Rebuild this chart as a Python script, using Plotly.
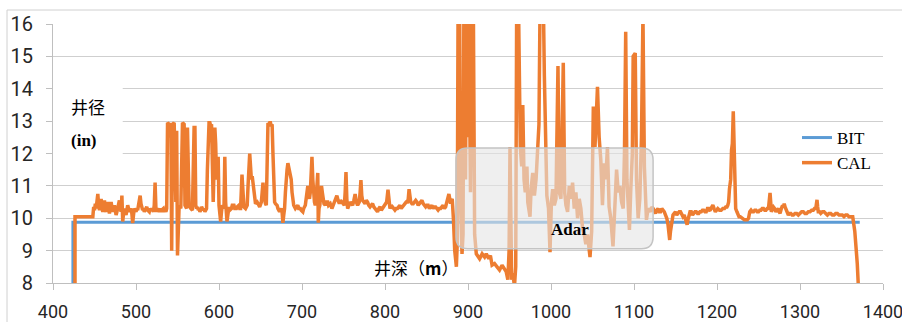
import plotly.graph_objects as go

# ---------------- data ----------------
x_ticks = [400, 500, 600, 700, 800, 900, 1000, 1100, 1200, 1300, 1400]
y_ticks = [8, 9, 10, 11, 12, 13, 14, 15, 16]

bit_depth = [424, 424, 1372]
bit_size = [8.0, 9.875, 9.875]

# CAL (caliper), section by section
cal_depth_a = [426.5, 426.5,
               448, 449, 450, 451, 452, 453, 454, 455, 456, 457,
               458, 459, 460, 461, 462, 463, 464, 465, 466, 467,
               468, 469, 470, 471, 472, 473, 474, 475, 476, 477,
               478, 479, 480, 481, 482, 483, 484, 485, 486, 487,
               488, 489, 490, 491, 492, 493, 494, 495, 496, 497,
               498, 499, 500, 501, 502, 503, 504, 505, 506, 507,
               508, 509, 510, 511, 512, 513, 514, 515, 516, 517,
               518, 519, 520, 521, 522, 523, 524, 525, 526, 527,
               528, 529, 530, 531, 532, 533, 534, 535, 536, 537]
cal_size_a = [8.0, 10.05,
              10.05, 10.35, 10.25, 10.45, 10.3, 10.55, 10.75, 10.4, 10.25, 10.45,
              10.6, 10.3, 10.2, 10.4, 10.55, 10.25, 10.2, 10.35, 10.5, 10.3,
              10.15, 10.3, 10.5, 10.35, 10.2, 10.3, 10.4, 10.25, 10.1, 10.2,
              10.3, 10.45, 10.55, 10.35, 10.2, 10.7, 9.9, 10.15, 10.3, 10.2,
              10.1, 10.25, 10.4, 10.3, 10.2, 10.25, 10.3, 10.15, 9.85, 10.1,
              10.3, 10.25, 10.2, 10.3, 10.25, 10.4, 10.5, 10.7, 10.45, 10.3,
              10.25, 10.3, 10.2, 10.25, 10.3, 10.35, 10.25, 10.2, 10.2, 10.3,
              10.25, 10.3, 10.2, 10.2, 10.4, 11.1, 10.3, 10.2, 10.3, 10.25,
              10.2, 10.3, 10.2, 10.25, 10.3, 10.3, 10.2, 10.25, 10.2, 10.3]

cal_depth_b = [538, 540, 541, 542, 543, 544, 546, 548, 549, 550,
               552, 554, 556, 558, 559, 561, 562, 564, 566, 568, 570]
cal_size_b = [12.95, 12.9, 12.5, 12.95, 9.0, 12.9, 12.95, 10.5, 12.7, 8.85,
              10.4, 10.3, 12.95, 12.9, 10.4, 10.3, 12.8, 10.4, 10.3, 10.25, 12.8]

cal_depth_c = [571, 572, 573, 574, 575, 576, 577, 578, 579, 580,
               581, 582, 583, 584, 585, 586, 587, 588, 589, 590,
               591, 592, 593, 594, 595, 596, 597, 598, 599, 600,
               601, 602, 603, 604, 605, 606, 607, 608, 609.6, 611,
               612, 613, 615, 616, 618, 619, 621, 622, 624, 625,
               626, 627.7, 629, 630, 632, 633, 634, 635, 637, 638,
               639, 640, 641, 642, 643, 644, 646, 647, 648, 649,
               650, 651, 652, 653, 654, 655, 656, 657, 658, 659,
               660, 661, 662, 663, 664, 665, 666, 667, 668, 670,
               671, 673, 674, 675, 676, 677, 678, 679, 680, 681,
               682, 683, 684, 685, 686, 687, 688, 689, 690, 692,
               693, 695, 696, 698, 699, 701, 702, 704, 705, 706,
               707, 708, 709, 710, 711, 712, 713, 714, 715, 716,
               717, 718, 719, 719.6, 720.5, 721.5, 722.5, 723.5, 724.5, 725.5,
               726.5, 728, 729, 731, 732, 734]
cal_size_c = [12.8, 10.4, 10.3, 10.35, 10.25, 10.3, 10.2, 10.25, 10.35, 10.3,
              10.25, 10.3, 10.2, 10.25, 10.3, 11.5, 12.9, 12.95, 12.95, 12.85,
              12.9, 11.8, 10.5, 11.5, 12.8, 12.3, 11.2, 11.3, 11.9, 10.4,
              10.2, 9.9, 10.2, 10.4, 10.35, 10.3, 11.9, 10.5, 9.9, 10.3,
              10.35, 10.25, 10.3, 10.4, 10.4, 10.3, 10.3, 10.35, 10.4, 10.3,
              10.3, 11.35, 10.4, 10.35, 10.3, 10.35, 10.4, 11.0, 12.0, 11.6,
              11.2, 11.3, 11.1, 10.8, 10.6, 10.45, 10.5, 10.4, 10.4, 10.35,
              10.4, 10.5, 10.8, 11.1, 10.7, 10.5, 10.45, 10.4, 11.5, 12.94,
              12.9, 12.95, 12.95, 12.85, 12.9, 12.0, 11.0, 10.5, 10.45, 10.4,
              10.3, 10.2, 10.25, 10.3, 10.2, 9.86, 10.1, 10.3, 10.8, 11.4,
              11.5, 11.7, 11.6, 11.5, 11.3, 11.2, 10.8, 10.5, 10.4, 10.3,
              10.35, 10.4, 10.3, 10.3, 10.25, 10.2, 10.3, 10.4, 10.6, 10.8,
              11.0, 10.7, 10.6, 10.8, 11.4, 11.9, 11.2, 10.75, 10.5, 10.4,
              10.6, 11.0, 11.4, 9.86, 10.3, 10.4, 10.7, 11.0, 10.8, 10.5,
              10.45, 10.4, 10.5, 10.5, 10.4, 10.45]

cal_depth_d = [736, 737.5, 739, 740.5, 742, 743.5, 745, 746.5, 748, 749.5,
               751, 752, 753, 754, 755, 756.5, 758, 759.5, 761, 762.5,
               764, 765.5, 767, 768, 769, 770, 771, 772, 773, 774.5,
               776, 777.5, 779, 780.5, 782, 783.5, 785, 786.5, 788, 789.5,
               791, 792.5, 794, 795.5, 797, 798.5, 800, 802, 803.6, 805,
               806, 807.5, 809, 810.5, 812, 813.5, 815, 816.5, 818, 819.5,
               821, 822.5, 824, 825.5, 827, 828, 829, 830, 831, 832.5,
               834, 835.5, 837, 838.5, 840, 841.5, 843, 844.5, 846, 847.5,
               849, 850.5, 852, 853.5, 855, 856.5, 858, 859.5, 861, 862.5,
               864, 865.5, 867, 868.5, 870, 871.5, 873, 874, 875, 876,
               877, 878, 879, 880, 881]
cal_size_d = [10.3, 10.4, 10.5, 10.6, 10.7, 10.55, 10.45, 10.55, 10.5, 10.45,
              10.4, 10.8, 11.43, 10.6, 10.3, 10.4, 10.5, 10.45, 10.4, 10.55,
              10.75, 10.5, 10.4, 10.45, 10.5, 10.8, 11.18, 10.7, 10.55, 10.5,
              10.45, 10.55, 10.5, 10.4, 10.35, 10.4, 10.45, 10.35, 10.3, 10.25,
              10.2, 10.3, 10.35, 10.25, 10.3, 10.35, 10.4, 10.5, 10.88, 10.45,
              10.3, 10.4, 10.35, 10.3, 10.25, 10.3, 10.3, 10.35, 10.4, 10.3,
              10.35, 10.4, 10.45, 10.5, 10.5, 10.6, 10.9, 10.6, 10.5, 10.45,
              10.45, 10.5, 10.55, 10.5, 10.4, 10.45, 10.5, 10.55, 10.45, 10.4,
              10.35, 10.4, 10.4, 10.3, 10.35, 10.4, 10.3, 10.35, 10.35, 10.3,
              10.25, 10.3, 10.3, 10.35, 10.4, 10.3, 10.35, 10.45, 10.55, 10.6,
              10.75, 10.6, 10.45, 10.55, 10.6]

cal_depth_e = [882.5, 884, 886, 887, 888, 890, 891, 892.8, 894, 895,
               897, 898, 900, 901, 903, 905, 906.5, 908, 910, 912,
               914, 917, 920, 922, 925, 927, 929, 932, 935, 938,
               941, 944, 946, 948, 949.5, 950.6, 951.5, 952.6, 954, 956,
               957.5, 958.6]
cal_size_e = [9.95, 9.0, 8.5, 9.2, 16.3, 16.3, 10.5, 8.9, 9.5, 16.3,
              11.2, 16.3, 12.5, 16.3, 10.8, 16.3, 16.3, 9.5, 8.9, 8.8,
              8.75, 8.9, 8.8, 8.9, 8.75, 8.85, 8.55, 8.6, 8.5, 8.4,
              8.55, 8.45, 8.35, 8.1, 9.0, 12.2, 9.0, 8.1, 8.3, 7.9,
              8.5, 16.3]

cal_depth_f = [961, 963, 964.7, 966, 967.5, 969, 971, 972, 974.7, 976,
               978, 980, 982, 984, 985.5, 986.7, 989, 991, 992, 993.5,
               995, 997, 998.8, 1000.5, 1002, 1004, 1006, 1008.4, 1010, 1012,
               1014.8, 1016.5, 1018, 1020, 1022, 1024, 1026, 1028, 1030, 1032,
               1034, 1036, 1038, 1040, 1042, 1044, 1047, 1049]
cal_size_f = [16.3, 12.2, 11.6, 13.5, 11.2, 10.8, 11.6, 10.5, 10.05, 10.9,
              11.4, 10.7, 11.2, 12.1, 12.9, 16.3, 16.3, 16.3, 14.4, 12.0,
              10.7, 10.3, 8.95, 10.5, 10.9, 10.4, 10.6, 14.7, 10.8, 10.6,
              14.8, 10.8, 10.4, 10.2, 11.0, 10.6, 11.1, 10.3, 10.8, 10.0,
              10.6, 10.3, 9.7, 9.5, 9.2, 9.5, 8.8, 9.6]

cal_depth_g = [1051, 1053, 1056, 1058, 1060, 1062, 1064, 1066, 1068, 1070,
               1072, 1074.7, 1077, 1079, 1081, 1083, 1085, 1087, 1088.5, 1090,
               1091.5, 1093, 1094.5, 1096, 1098, 1099, 1101.5, 1103, 1105, 1107,
               1109, 1110.8, 1112.5, 1115, 1117]
cal_size_g = [13.45, 12.2, 14.06, 12.5, 11.8, 10.4, 11.7, 11.2, 12.2, 10.36,
              10.0, 9.13, 10.2, 11.5, 10.8, 11.0, 10.5, 10.3, 12.0, 15.76,
              11.2, 10.5, 9.64, 10.8, 12.0, 15.0, 15.1, 11.2, 10.0, 10.6,
              12.5, 16.3, 11.6, 9.95, 10.3]

cal_depth_h = [1120, 1121.5, 1123, 1124.5, 1126, 1127.5, 1129, 1130.5, 1132, 1133.5,
               1135, 1136.5, 1138, 1139.5, 1141, 1142, 1143, 1144, 1145, 1146,
               1147, 1148.5, 1150, 1151.5, 1153, 1154.5, 1156, 1157.5, 1159, 1160.5,
               1162, 1163, 1164, 1165, 1166, 1167.5, 1169, 1170.5, 1172, 1173.5,
               1175, 1176.5, 1178, 1179.5, 1181, 1182.5, 1184, 1185.5, 1187, 1188.5,
               1190, 1191, 1192, 1193.5, 1195, 1196.5, 1198, 1199.5, 1201, 1203,
               1205, 1207, 1209, 1210.5, 1212, 1213, 1214, 1215, 1215.7, 1216.5,
               1217.5, 1218.5, 1219.6, 1220.3, 1221, 1221.8, 1222.5, 1224, 1225, 1226.5,
               1228, 1230, 1231.6, 1233, 1235, 1236.5, 1238, 1239.5, 1241, 1242.5,
               1244, 1245.5, 1247, 1248.5, 1250, 1251.5, 1253, 1254.5, 1256, 1257.5,
               1259, 1260.5, 1262, 1263, 1263.9, 1264.7, 1265.5, 1267, 1268, 1269.5,
               1271, 1272.5, 1274, 1275, 1276, 1277.5, 1279, 1280, 1281, 1282,
               1283, 1284.5, 1286, 1287.5, 1289, 1290.5, 1292, 1294, 1296, 1298,
               1300, 1302, 1304, 1306, 1308, 1310, 1312, 1314, 1316, 1317.5,
               1319, 1320.5, 1321.3, 1322, 1323.5, 1325, 1327, 1329, 1331, 1333,
               1335, 1337, 1339, 1341, 1343, 1345, 1347, 1349, 1351, 1353,
               1355, 1357, 1359, 1361, 1363.5, 1366, 1368.3, 1369, 1370.3]
cal_size_h = [10.2, 10.35, 10.3, 10.2, 10.15, 10.25, 10.3, 10.2, 10.2, 10.3,
              10.25, 10.2, 10.1, 10.0, 9.8, 9.6, 9.33, 9.6, 9.8, 10.0,
              10.1, 10.15, 10.2, 10.1, 10.15, 10.2, 10.2, 10.1, 10.05, 10.1,
              10.0, 9.9, 9.8, 9.95, 10.1, 10.2, 10.2, 10.1, 10.15, 10.2,
              10.2, 10.15, 10.15, 10.2, 10.2, 10.25, 10.25, 10.2, 10.2, 10.3,
              10.3, 10.25, 10.26, 10.35, 10.41, 10.3, 10.2, 10.25, 10.3, 10.25,
              10.25, 10.3, 10.3, 10.35, 10.35, 10.4, 10.5, 10.9, 11.1, 11.2,
              12.1, 12.3, 13.3, 12.5, 12.0, 11.0, 10.3, 10.2, 10.1, 10.05,
              10.05, 10.0, 9.95, 9.95, 9.95, 9.95, 10.0, 10.2, 10.25, 10.2,
              10.2, 10.25, 10.25, 10.2, 10.2, 10.25, 10.25, 10.3, 10.3, 10.25,
              10.25, 10.3, 10.3, 10.5, 10.78, 10.5, 10.2, 10.3, 10.35, 10.3,
              10.2, 10.25, 10.3, 10.2, 10.15, 10.3, 10.4, 10.35, 10.45, 10.35,
              10.3, 10.2, 10.1, 10.15, 10.15, 10.1, 10.1, 10.15, 10.15, 10.1,
              10.15, 10.2, 10.2, 10.15, 10.15, 10.2, 10.2, 10.25, 10.25, 10.3,
              10.3, 10.57, 10.35, 10.2, 10.2, 10.15, 10.2, 10.2, 10.15, 10.1,
              10.15, 10.15, 10.1, 10.1, 10.15, 10.15, 10.1, 10.1, 10.1, 10.05,
              10.1, 10.1, 10.05, 10.05, 10.05, 9.6, 9.0, 8.6, 7.9]

cal_depth = (cal_depth_a + cal_depth_b + cal_depth_c + cal_depth_d
             + cal_depth_e + cal_depth_f + cal_depth_g + cal_depth_h)
cal_size = (cal_size_a + cal_size_b + cal_size_c + cal_size_d
            + cal_size_e + cal_size_f + cal_size_g + cal_size_h)
assert len(cal_depth) == len(cal_size), (len(cal_depth), len(cal_size))

adar_box = dict(x0=885.5, x1=1123, y0=9.06, y1=12.17, rx=14, ry=0.37)

# ---------------- figure ----------------
fig = go.Figure()
fig.add_trace(go.Scatter(x=bit_depth, y=bit_size, mode="lines", name="BIT",
                         line=dict(color="#5B9BD5", width=3)))
fig.add_trace(go.Scatter(x=cal_depth, y=cal_size, mode="lines", name="CAL",
                         line=dict(color="#ED7D31", width=3.5)))

b = adar_box
path = (f"M {b['x0']+b['rx']},{b['y0']} L {b['x1']-b['rx']},{b['y0']} "
        f"Q {b['x1']},{b['y0']} {b['x1']},{b['y0']+b['ry']} L {b['x1']},{b['y1']-b['ry']} "
        f"Q {b['x1']},{b['y1']} {b['x1']-b['rx']},{b['y1']} L {b['x0']+b['rx']},{b['y1']} "
        f"Q {b['x0']},{b['y1']} {b['x0']},{b['y1']-b['ry']} L {b['x0']},{b['y0']+b['ry']} "
        f"Q {b['x0']},{b['y0']} {b['x0']+b['rx']},{b['y0']} Z")
fig.add_shape(type="path", path=path, xref="x", yref="y", layer="above",
              fillcolor="rgba(228,228,228,0.6)", line=dict(color="#c4c4c4", width=1.5))

# white patch behind the y-axis title (hides the gridlines there)
fig.add_shape(type="rect", xref="x", yref="y", x0=400, x1=484, y0=11.6, y1=14.2,
              layer="between", fillcolor="white", line=dict(width=0))

# outer chart border
fig.add_shape(type="rect", xref="paper", yref="paper", x0=-0.0554, x1=1.03, y0=-0.2, y1=1.054,
              layer="above", fillcolor="rgba(0,0,0,0)", line=dict(color="#d0d0d0", width=1))


def px_x(p):
    return (p - 53) / 830


def px_y(p):
    return (283 - p) / 259


fig.add_annotation(x=1023, y=9.64, xref="x", yref="y", text="<b>Adar</b>", showarrow=False,
                   xanchor="center", yanchor="middle",
                   font=dict(family="Liberation Serif", size=17, color="black"))
fig.add_annotation(xref="paper", yref="paper", x=px_x(88), y=px_y(106), text="井径",
                   showarrow=False, xanchor="center", yanchor="middle",
                   font=dict(family="Noto Sans CJK SC", size=17, color="black"))
fig.add_annotation(xref="paper", yref="paper", x=px_x(84), y=px_y(140), text="<b>(in)</b>",
                   showarrow=False, xanchor="center", yanchor="middle",
                   font=dict(family="Liberation Serif", size=17, color="black"))
fig.add_annotation(xref="paper", yref="paper", x=px_x(416), y=px_y(267),
                   text="井深（<b>m</b>）", showarrow=False, xanchor="center", yanchor="middle",
                   font=dict(family="Noto Sans CJK SC", size=17, color="black"))

fig.update_layout(
    width=902, height=322,
    margin=dict(l=53, r=19, t=24, b=39, pad=0, autoexpand=False),
    paper_bgcolor="white", plot_bgcolor="white",
    showlegend=True,
    legend=dict(x=px_x(797), y=px_y(120), xanchor="left", yanchor="top",
                bgcolor="rgba(0,0,0,0)", borderwidth=0,
                font=dict(family="Liberation Serif", size=17, color="black"),
                tracegroupgap=0),
    xaxis=dict(range=[400, 1400], tickvals=x_ticks, ticktext=[str(v) for v in x_ticks],
               automargin=False,
               showgrid=False, zeroline=False, showline=True, linecolor="#bfbfbf", linewidth=1,
               ticks="outside", ticklen=6, tickcolor="#bfbfbf", ticklabelstandoff=6,
               ticklabeloverflow="allow",
               tickfont=dict(family="Roboto", size=18, color="#262626")),
    yaxis=dict(range=[8, 16], tickvals=y_ticks, ticktext=[str(v) for v in y_ticks],
               automargin=False,
               showgrid=True, gridcolor="#cfcfcf", gridwidth=1, zeroline=False,
               showline=True, linecolor="#bfbfbf", linewidth=1,
               ticks="outside", ticklen=6, tickcolor="#bfbfbf", ticklabelstandoff=9,
               tickfont=dict(family="Roboto", size=20, color="#262626")),
)

fig.write_html("out.html", config={"displayModeBar": False},
               post_script="document.body.style.margin='0px';")
